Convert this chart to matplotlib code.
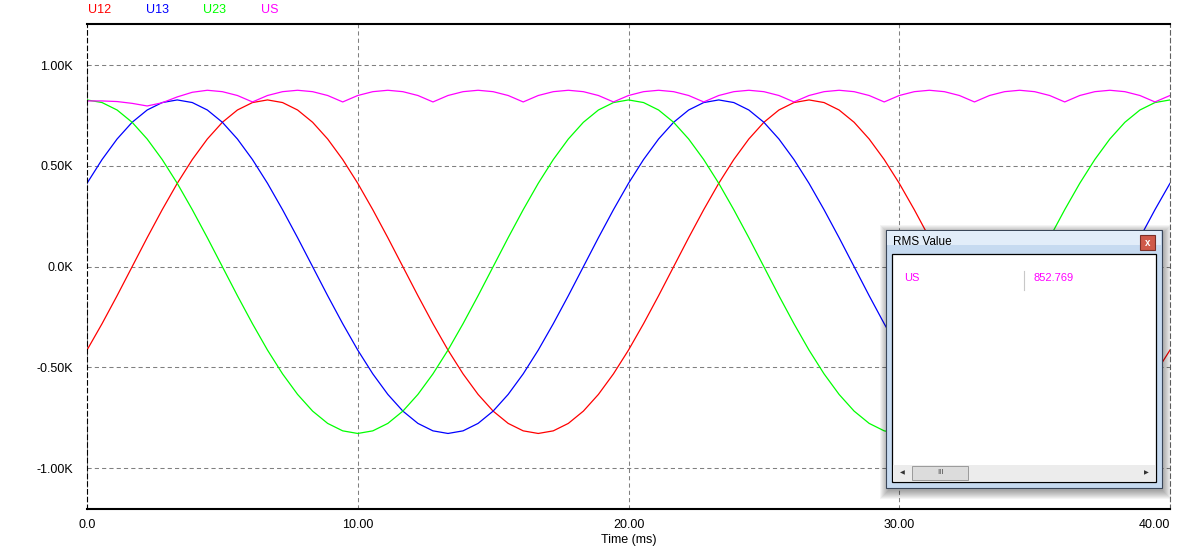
import numpy as np
import matplotlib.pyplot as plt
from matplotlib.patches import Rectangle

plt.rcParams['font.family'] = ['Liberation Sans', 'DejaVu Sans']

# samples every 10 electrical degrees (0.556 ms) over 0..40 ms
time_ms = np.linspace(0, 40, 73)

u12 = [-414, -283, -144, 0, 144, 283, 414, 532, 634, 717, 778, 815, 828, 815, 778, 717, 634, 532,
       414, 283, 144, 0, -144, -283, -414, -532, -634, -717, -778, -815, -828, -815, -778, -717, -634, -532,
       -414, -283, -144, 0, 144, 283, 414, 532, 634, 717, 778, 815, 828, 815, 778, 717, 634, 532,
       414, 283, 144, 0, -144, -283, -414, -532, -634, -717, -778, -815, -828, -815, -778, -717, -634, -532,
       -414]
u13 = [414, 532, 634, 717, 778, 815, 828, 815, 778, 717, 634, 532, 414, 283, 144, 0, -144, -283,
       -414, -532, -634, -717, -778, -815, -828, -815, -778, -717, -634, -532, -414, -283, -144, 0, 144, 283,
       414, 532, 634, 717, 778, 815, 828, 815, 778, 717, 634, 532, 414, 283, 144, 0, -144, -283,
       -414, -532, -634, -717, -778, -815, -828, -815, -778, -717, -634, -532, -414, -283, -144, 0, 144, 283,
       414]
u23 = [828, 815, 778, 717, 634, 532, 414, 283, 144, 0, -144, -283, -414, -532, -634, -717, -778, -815,
       -828, -815, -778, -717, -634, -532, -414, -283, -144, 0, 144, 283, 414, 532, 634, 717, 778, 815,
       828, 815, 778, 717, 634, 532, 414, 283, 144, 0, -144, -283, -414, -532, -634, -717, -778, -815,
       -828, -815, -778, -717, -634, -532, -414, -283, -144, 0, 144, 283, 414, 532, 634, 717, 778, 815,
       828]
us = [823, 823, 820, 811, 798, 814, 843, 866, 876, 869, 850,
      818, 850, 869, 876, 869, 850, 818, 850, 869, 876, 869, 850,
      818, 850, 869, 876, 869, 850, 818, 850, 869, 876, 869, 850,
      818, 850, 869, 876, 869, 850, 818, 850, 869, 876, 869, 850,
      818, 850, 869, 876, 869, 850, 818, 850, 869, 876, 869, 850,
      818, 850, 869, 876, 869, 850, 818, 850, 869, 876, 869, 850,
      818, 850]

series_names = ['U12', 'U13', 'U23', 'US']
series_colors = ['#ff0000', '#0000ff', '#00ff00', '#ff00ff']

y_ticks = [-1000, -500, 0, 500, 1000]
y_tick_labels = ['-1.00K', '-0.50K', '0.0K', '0.50K', '1.00K']
x_ticks = [0, 10, 20, 30, 40]
x_tick_labels = ['0.0', '10.00', '20.00', '30.00', '40.00']

rms_name = 'US'
rms_value = '852.769'

W, H = 1188, 547
fig = plt.figure(figsize=(W / 100, H / 100), dpi=100)
ax = fig.add_axes([87 / W, 38 / H, 1083 / W, 485 / H])

for name, vals, col in zip(series_names, [u12, u13, u23, us], series_colors):
    ax.plot(time_ms, vals, color=col, lw=0.9, label=name)

ax.set_xlim(0, 40)
ax.set_ylim(-1203, 1205)
ax.set_xticks(x_ticks)
ax.set_xticklabels(x_tick_labels)
ax.set_yticks(y_ticks)
ax.set_yticklabels(y_tick_labels)
ax.tick_params(length=0, labelsize=9)
ax.tick_params(axis='y', pad=10)
ax.tick_params(axis='x', pad=7)
ax.get_xticklabels()[-1].set_horizontalalignment('right')
ax.set_xlabel('Time (ms)', fontsize=9, labelpad=2)
ax.grid(True, color='#808080', linestyle=(0, (4, 3)), linewidth=0.75)

for side in ['top', 'bottom']:
    ax.spines[side].set_linewidth(1.5)
    ax.spines[side].set_color('black')
ax.spines['left'].set_linestyle((0, (4, 3)))
ax.spines['left'].set_linewidth(0.8)
ax.spines['left'].set_color('black')
ax.spines['right'].set_linestyle((0, (4, 3)))
ax.spines['right'].set_linewidth(0.8)
ax.spines['right'].set_color('#606060')

# overlay in pixel coordinates for the legend row and the RMS window
ov = fig.add_axes([0, 0, 1, 1])
ov.set_xlim(0, W)
ov.set_ylim(H, 0)
ov.axis('off')

legend_x = [88, 146, 203, 261]
for lx, name, col in zip(legend_x, series_names, series_colors):
    ov.text(lx, 10, name, color=col, fontsize=9, va='center', ha='left')

# window shadow
for i in range(1, 10):
    ov.add_patch(Rectangle((886 - i + 3, 230 - i + 4), 276 + 2 * i - 3, 258 + 2 * i - 2,
                           facecolor='black', edgecolor='none', alpha=0.045))
# frame
ov.add_patch(Rectangle((886, 230), 276, 258, facecolor='#c6daf0', edgecolor='#3a4658', lw=0.8))
ov.add_patch(Rectangle((887, 231), 274, 14, facecolor='#e2edf9', edgecolor='none'))
ov.text(893, 242, 'RMS Value', fontsize=8.5, va='center', ha='left', color='black')
# close button
ov.add_patch(Rectangle((1140, 235), 15, 15, facecolor='#cf5a4a', edgecolor='#7a3028', lw=0.8))
ov.text(1147.5, 242.5, 'x', fontsize=7, color='white', fontweight='bold', va='center', ha='center')
# client area
ov.add_patch(Rectangle((892, 254), 264, 228, facecolor='white', edgecolor='black', lw=0.9))
ov.plot([1024, 1024], [271, 290], color='#c8c8c8', lw=0.8)
ov.text(904, 278, rms_name, color='#ff00ff', fontsize=8, va='center', ha='left')
ov.text(1034, 278, rms_value, color='#ff00ff', fontsize=8, va='center', ha='left')
# scrollbar
ov.add_patch(Rectangle((893, 465), 262, 16, facecolor='#ececec', edgecolor='none'))
ov.add_patch(Rectangle((912, 466), 56, 14, facecolor='#dcdcdc', edgecolor='#9a9a9a', lw=0.7))
ov.text(940, 473, 'III', fontsize=5.5, color='#444444', va='center', ha='center')
ov.text(902, 473, '\u25c0', fontsize=4.5, color='#333333', va='center', ha='center', family='DejaVu Sans')
ov.text(1146, 473, '\u25b6', fontsize=4.5, color='#333333', va='center', ha='center', family='DejaVu Sans')

fig.savefig('out.png', dpi=100)
